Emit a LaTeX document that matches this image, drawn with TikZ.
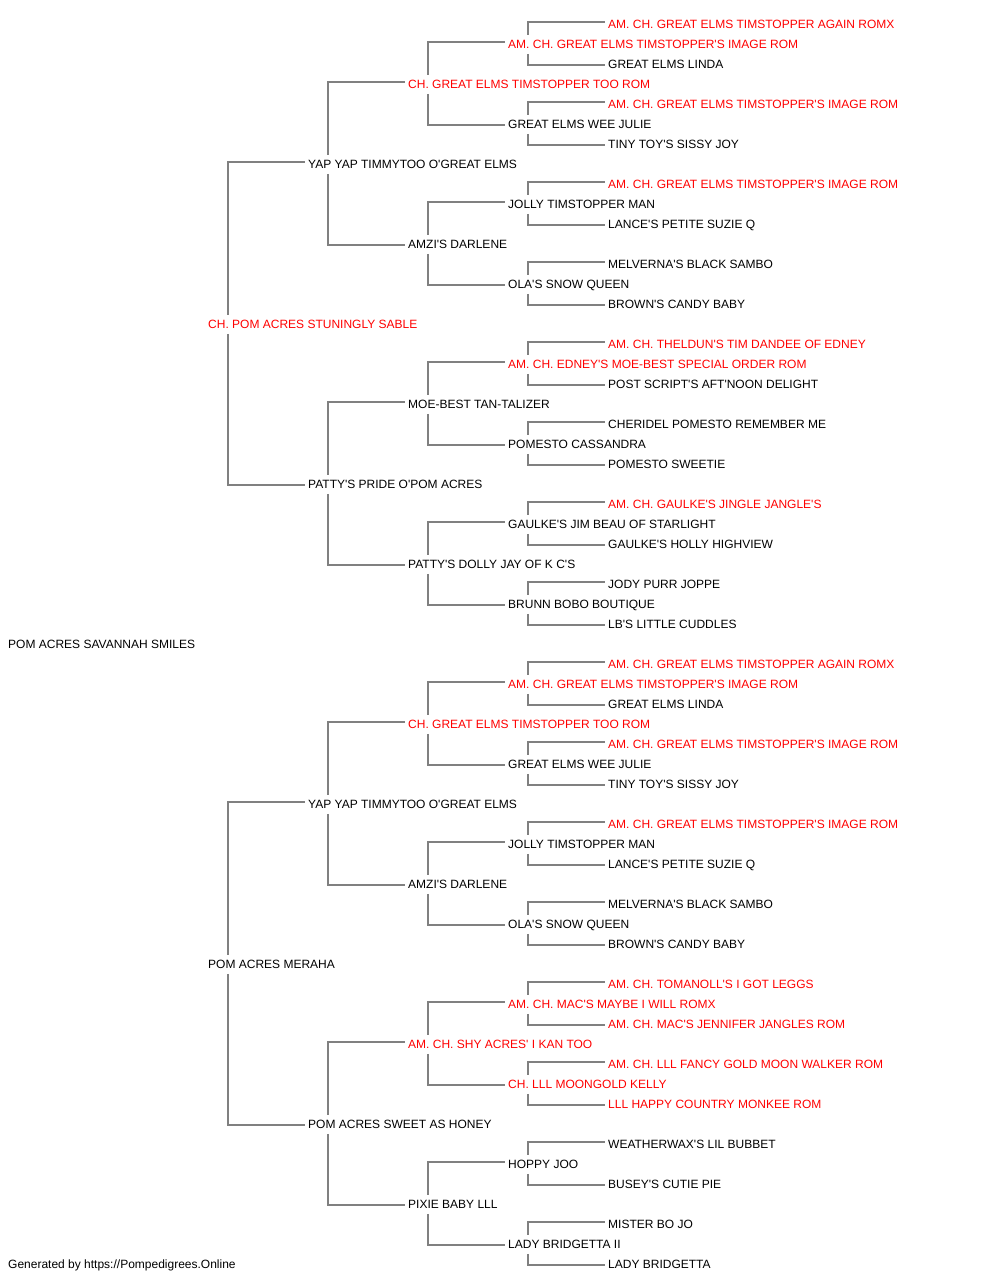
\documentclass[tikz,border=0pt]{standalone}
\usepackage{fontspec}
\newfontfamily\pedfont{Liberation Sans}
\definecolor{pedred}{HTML}{FF0000}
\definecolor{pedline}{HTML}{808080}
\tikzset{
  nm/.style={anchor=west, inner sep=0pt, text height=8.6pt, text depth=0pt,
    font=\pedfont\fontsize{12}{14}\selectfont, text=black},
  rd/.style={nm, text=pedred},
  link/.style={draw=pedline, line width=2pt}
}
\newcommand\pedlink[3]{%
  \draw[link] ([xshift=20pt,yshift=9pt]#1.west) |- ([xshift=-3pt,yshift=1.5pt]#2.west);
  \draw[link] ([xshift=20pt,yshift=-10pt]#1.west) |- ([xshift=-3pt,yshift=-1.5pt]#3.west);}
\begin{document}
\begin{tikzpicture}[x=1pt,y=-1pt]
\useasboundingbox[fill=white] (0,-0.8) rectangle (1000,1279.2);
% generation 0
\node[nm] (r) at (8,643) {POM ACRES SAVANNAH SMILES};
% generation 1
\node[rd] (r0) at (208,323) {CH. POM ACRES STUNINGLY SABLE};
\node[nm] (r1) at (208,963) {POM ACRES MERAHA};
% generation 2
\node[nm] (r00) at (308,163) {YAP YAP TIMMYTOO O'GREAT ELMS};
\node[nm] (r01) at (308,483) {PATTY'S PRIDE O'POM ACRES};
\node[nm] (r10) at (308,803) {YAP YAP TIMMYTOO O'GREAT ELMS};
\node[nm] (r11) at (308,1123) {POM ACRES SWEET AS HONEY};
% generation 3
\node[rd] (r000) at (408,83) {CH. GREAT ELMS TIMSTOPPER TOO ROM};
\node[nm] (r001) at (408,243) {AMZI'S DARLENE};
\node[nm] (r010) at (408,403) {MOE-BEST TAN-TALIZER};
\node[nm] (r011) at (408,563) {PATTY'S DOLLY JAY OF K C'S};
\node[rd] (r100) at (408,723) {CH. GREAT ELMS TIMSTOPPER TOO ROM};
\node[nm] (r101) at (408,883) {AMZI'S DARLENE};
\node[rd] (r110) at (408,1043) {AM. CH. SHY ACRES' I KAN TOO};
\node[nm] (r111) at (408,1203) {PIXIE BABY LLL};
% generation 4
\node[rd] (r0000) at (508,43) {AM. CH. GREAT ELMS TIMSTOPPER'S IMAGE ROM};
\node[nm] (r0001) at (508,123) {GREAT ELMS WEE JULIE};
\node[nm] (r0010) at (508,203) {JOLLY TIMSTOPPER MAN};
\node[nm] (r0011) at (508,283) {OLA'S SNOW QUEEN};
\node[rd] (r0100) at (508,363) {AM. CH. EDNEY'S MOE-BEST SPECIAL ORDER ROM};
\node[nm] (r0101) at (508,443) {POMESTO CASSANDRA};
\node[nm] (r0110) at (508,523) {GAULKE'S JIM BEAU OF STARLIGHT};
\node[nm] (r0111) at (508,603) {BRUNN BOBO BOUTIQUE};
\node[rd] (r1000) at (508,683) {AM. CH. GREAT ELMS TIMSTOPPER'S IMAGE ROM};
\node[nm] (r1001) at (508,763) {GREAT ELMS WEE JULIE};
\node[nm] (r1010) at (508,843) {JOLLY TIMSTOPPER MAN};
\node[nm] (r1011) at (508,923) {OLA'S SNOW QUEEN};
\node[rd] (r1100) at (508,1003) {AM. CH. MAC'S MAYBE I WILL ROMX};
\node[rd] (r1101) at (508,1083) {CH. LLL MOONGOLD KELLY};
\node[nm] (r1110) at (508,1163) {HOPPY JOO};
\node[nm] (r1111) at (508,1243) {LADY BRIDGETTA II};
% generation 5
\node[rd] (r00000) at (608,23) {AM. CH. GREAT ELMS TIMSTOPPER AGAIN ROMX};
\node[nm] (r00001) at (608,63) {GREAT ELMS LINDA};
\node[rd] (r00010) at (608,103) {AM. CH. GREAT ELMS TIMSTOPPER'S IMAGE ROM};
\node[nm] (r00011) at (608,143) {TINY TOY'S SISSY JOY};
\node[rd] (r00100) at (608,183) {AM. CH. GREAT ELMS TIMSTOPPER'S IMAGE ROM};
\node[nm] (r00101) at (608,223) {LANCE'S PETITE SUZIE Q};
\node[nm] (r00110) at (608,263) {MELVERNA'S BLACK SAMBO};
\node[nm] (r00111) at (608,303) {BROWN'S CANDY BABY};
\node[rd] (r01000) at (608,343) {AM. CH. THELDUN'S TIM DANDEE OF EDNEY};
\node[nm] (r01001) at (608,383) {POST SCRIPT'S AFT'NOON DELIGHT};
\node[nm] (r01010) at (608,423) {CHERIDEL POMESTO REMEMBER ME};
\node[nm] (r01011) at (608,463) {POMESTO SWEETIE};
\node[rd] (r01100) at (608,503) {AM. CH. GAULKE'S JINGLE JANGLE'S};
\node[nm] (r01101) at (608,543) {GAULKE'S HOLLY HIGHVIEW};
\node[nm] (r01110) at (608,583) {JODY PURR JOPPE};
\node[nm] (r01111) at (608,623) {LB'S LITTLE CUDDLES};
\node[rd] (r10000) at (608,663) {AM. CH. GREAT ELMS TIMSTOPPER AGAIN ROMX};
\node[nm] (r10001) at (608,703) {GREAT ELMS LINDA};
\node[rd] (r10010) at (608,743) {AM. CH. GREAT ELMS TIMSTOPPER'S IMAGE ROM};
\node[nm] (r10011) at (608,783) {TINY TOY'S SISSY JOY};
\node[rd] (r10100) at (608,823) {AM. CH. GREAT ELMS TIMSTOPPER'S IMAGE ROM};
\node[nm] (r10101) at (608,863) {LANCE'S PETITE SUZIE Q};
\node[nm] (r10110) at (608,903) {MELVERNA'S BLACK SAMBO};
\node[nm] (r10111) at (608,943) {BROWN'S CANDY BABY};
\node[rd] (r11000) at (608,983) {AM. CH. TOMANOLL'S I GOT LEGGS};
\node[rd] (r11001) at (608,1023) {AM. CH. MAC'S JENNIFER JANGLES ROM};
\node[rd] (r11010) at (608,1063) {AM. CH. LLL FANCY GOLD MOON WALKER ROM};
\node[rd] (r11011) at (608,1103) {LLL HAPPY COUNTRY MONKEE ROM};
\node[nm] (r11100) at (608,1143) {WEATHERWAX'S LIL BUBBET};
\node[nm] (r11101) at (608,1183) {BUSEY'S CUTIE PIE};
\node[nm] (r11110) at (608,1223) {MISTER BO JO};
\node[nm] (r11111) at (608,1263) {LADY BRIDGETTA};
% footer
\node[nm] (foot) at (8,1263) {Generated by https://Pompedigrees.Online};
% connectors
\pedlink{r0}{r00}{r01}
\pedlink{r1}{r10}{r11}
\foreach \p in {r00,r01,r10,r11,r000,r001,r010,r011,r100,r101,r110,r111,
  r0000,r0001,r0010,r0011,r0100,r0101,r0110,r0111,r1000,r1001,r1010,r1011,r1100,r1101,r1110,r1111}{
  \pedlink{\p}{\p0}{\p1}
}
\end{tikzpicture}
\end{document}
